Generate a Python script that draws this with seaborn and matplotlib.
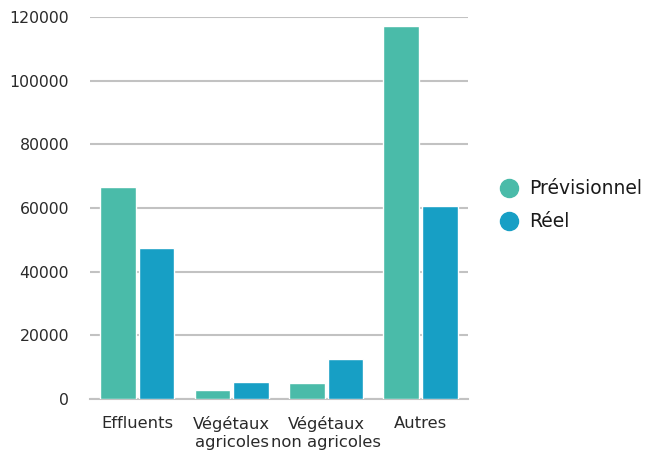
import matplotlib
matplotlib.use("Agg")
import matplotlib.pyplot as plt
import seaborn as sns
import pandas as pd
from matplotlib.lines import Line2D

categories = ["Effluents", "Végétaux\nagricoles", "Végétaux\nnon agricoles", "Autres"]
previsionnel = [66500, 2900, 5100, 117000]
reel = [47500, 5300, 12600, 60700]
series = ["Prévisionnel", "Réel"]
colors = ["#4ABBA9", "#179FC5"]
yticks = [0, 20000, 40000, 60000, 80000, 100000, 120000]

df = pd.DataFrame({
    "cat": categories * 2,
    "val": previsionnel + reel,
    "serie": [series[0]] * 4 + [series[1]] * 4,
})

sns.set_theme(style="white")
plt.rcParams["font.family"] = ["DejaVu Sans"]

fig = plt.figure(figsize=(6.57, 4.57), dpi=100)
ax = fig.add_axes([0.137, 0.127, 0.575, 0.836])

sns.barplot(data=df, x="cat", y="val", hue="serie", palette=colors,
            order=categories, hue_order=series, width=0.82, gap=0.08,
            saturation=1, ax=ax, legend=False, zorder=3)

ax.set_ylim(0, 120000)
ax.set_yticks(yticks)
ax.set_yticklabels([str(v) for v in yticks], fontsize=11.3, color="#2a2a2a")
ax.tick_params(axis="x", labelsize=11.8, colors="#2a2a2a", length=0, pad=12)
ax.tick_params(axis="y", length=0, pad=15)
ax.set_xlabel("")
ax.set_ylabel("")
for t in ax.get_xticklabels():
    t.set_linespacing(1.25)
ax.yaxis.grid(True, color="#C2C2C2", linewidth=1.5, zorder=0)
for s in ["top", "right", "left"]:
    ax.spines[s].set_visible(False)
ax.spines["bottom"].set_color("#C2C2C2")
ax.spines["bottom"].set_linewidth(1.5)

handles = [Line2D([0], [0], marker="o", linestyle="", markersize=13,
                  markerfacecolor=c, markeredgecolor=c) for c in colors]
fig.legend(handles, series, loc="center left", bbox_to_anchor=(0.735, 0.551),
           frameon=False, fontsize=13.5, handletextpad=0.55, labelspacing=0.75,
           handlelength=1.0, labelcolor="#1a1a1a")

fig.savefig("out.png", dpi=100)
